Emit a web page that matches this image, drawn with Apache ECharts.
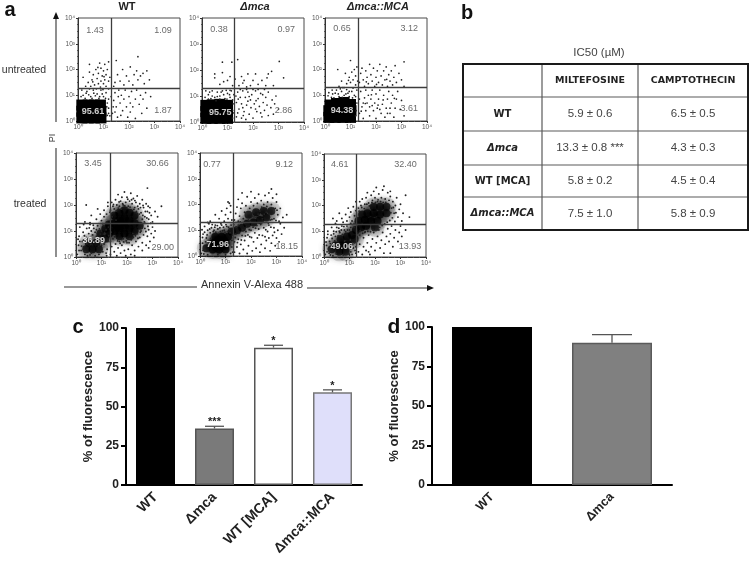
<!DOCTYPE html>
<html><head><meta charset="utf-8">
<style>html,body{margin:0;padding:0;background:#fff}#c{width:752px;height:565px;filter:blur(.4px)}</style>
<script src="https://cdn.jsdelivr.net/npm/echarts@6/dist/echarts.min.js"></script>
</head><body><div id="c"></div>
<script>
var decadeLabels=['10⁰','10¹','10²','10³','10⁴'];
var panelTitles=['WT','Δmca','Δmca::MCA'];
var rowTitles=['untreated','treated'];
var gatesP=[[1.29,1.29],[1.25,1.29],[1.29,1.3],[1.33,1.3],[1.29,1.32],[1.25,1.29]];
// quadrant readings: [upper-left, upper-right, lower-right, lower-left]
var q1=['1.43','1.09','1.87','95.61'];
var q2=['0.38','0.97','2.86','95.75'];
var q3=['0.65','3.12','3.61','94.38'];
var q4=['3.45','30.66','29.00','36.89'];
var q5=['0.77','9.12','18.15','71.96'];
var q6=['4.61','32.40','13.93','49.06'];
var coreA=[[.15,.12],[.4,.12],[.65,.12],[.9,.12],[.15,.38],[.4,.38],[.65,.38],[.9,.38],[.15,.62],[.4,.62],[.65,.62],[.88,.62]];
var coreB=[[.15,.14],[.4,.14],[.7,.14],[1,.14],[.15,.4],[.45,.4],[.75,.4],[1,.4],[.15,.64],[.4,.66],[.7,.68],[1,.64]];
var coreC=[[.15,.14],[.4,.14],[.7,.14],[1,.14],[.15,.4],[.45,.4],[.75,.4],[1.02,.4],[.2,.62],[.45,.68],[.75,.72],[1,.64]];
var coreD=[[1.5,1],[1.5,1.3],[1.5,1.6],[1.7,.8],[1.7,1.1],[1.7,1.4],[1.7,1.7],[1.9,.9],[1.9,1.2],[1.9,1.5],[1.9,1.8],[2.1,.8],[2.1,1.1],[2.1,1.4],[2.1,1.7],[2.3,1],[2.3,1.3],[2.3,1.6],[2.5,1.2],[1.3,.9],[1.3,1.25],[.4,.3],[.65,.3],[.9,.3],[.5,.55],[.8,.55],[.95,.9],[1.15,.7],[1.15,1.1]];
var coreE=[[.5,.25],[.75,.25],[1,.25],[.5,.5],[.75,.5],[1,.5],[.6,.75],[.85,.75],[1.1,.75],[1.25,.95],[1.45,1],[1.65,1.1],[1.85,1.25],[2.1,1.3],[2.35,1.4],[2.6,1.5],[2.2,1.7],[2.5,1.75],[2.8,1.75],[1.9,1.6],[.25,.3],[.6,.4],[.85,.4],[.7,.6],[.95,.6]];
var coreF=[[.6,.2],[.85,.2],[.45,.45],[.7,.45],[.95,.5],[.65,.7],[.9,.8],[1.1,.85],[1.25,1.05],[1.45,1.15],[1.65,1.2],[1.35,1.4],[1.6,1.45],[1.85,1.4],[2.1,1.4],[1.7,1.7],[1.95,1.7],[2.2,1.65],[2.45,1.7],[1.95,1.95],[2.2,1.95],[2.45,1.95],[1.5,1.65],[2,1.15],[1.2,.7],[.3,.3]];
var dotsA=[[.4,1.5],[.45,1.9],[.45,2.2],[.55,1.6],[.6,1.8],[.65,1.4],[.7,2],[.75,1.65],[.8,1.45],[.8,1.85],[.85,2.25],[.9,1.55],[.9,2.05],[.95,1.75],[1,1.45],[1,1.95],[1.05,1.6],[1.05,2.2],[1.1,1.8],[1.1,1.35],[1.15,2],[1.2,1.55],[1.2,2.3],[1.25,1.7],[.3,1.35],[.5,1.35],[.2,1.7],[.2,1],[.35,1.15],[.5,.95],[.6,1.2],[.75,1.05],[.9,1.2],[1,.95],[1.1,1.1],[1.2,1.25],[1.2,.85],[1.2,.5],[1.25,.2],[.15,1.2],[.45,1.25],[.85,.95],[1.15,.7],[1.2,.3],[1.45,1.5],[1.5,2.35],[1.55,1.8],[1.65,1.55],[1.75,2],[1.8,1.4],[1.9,1.75],[2,1.55],[2.05,2.1],[2.15,1.4],[2.2,1.8],[2.3,1.95],[2.35,1.6],[2.35,2.5],[2.45,1.75],[2.55,1.85],[2.7,1.95],[2.8,1.6],[1.4,1.35],[2.6,1.45],[1.35,.3],[1.4,.8],[1.45,1.1],[1.5,.55],[1.55,.15],[1.6,1.2],[1.65,.7],[1.7,1],[1.75,.4],[1.8,.85],[1.85,1.2],[1.9,.55],[1.95,.15],[2,.95],[2.05,.35],[2.05,.7],[2.1,1.15],[2.15,.55],[2.25,.85],[2.25,.1],[2.3,1.2],[2.4,.65],[2.45,1],[2.5,.3],[2.55,.85],[2.65,1.1],[2.7,.5],[2.85,.95],[1.3,.95],[1.45,.35],[.12,.95],[.28,.88],[.42,1.02],[.55,.88],[.68,.98],[.82,.88],[.95,1.05],[1.08,.88],[1.13,.55],[1.15,.22],[.32,1.08],[.62,1.08],[.98,1.22],[.72,1.25],[.88,1.32],[1.02,1.72],[.58,1.52],[.78,2.08],[1.38,.55],[1.58,.95],[1.68,.22]];
var dotsB=[[.8,2.3],[1.17,2.3],[1.4,2.4],[3.03,2.33],[3.2,1.7],[2.73,1.95],[2.6,1.85],[.5,1.7],[.5,1.85],[.8,1.9],[.85,1.55],[1,1.6],[1.1,1.75],[.7,1.45],[1.3,1.65],[1.55,1.75],[1.6,1.5],[1.8,1.85],[1.9,1.4],[2,1.6],[2.1,1.85],[2.2,1.45],[2.35,1.6],[2.5,1.4],[2.55,1.7],[1.75,1.35],[1.2,1.4],[1.45,1.4],[1.65,1.6],[2.8,1.4],[.25,1.05],[.4,1.2],[.5,.95],[.6,1.15],[.7,1],[.8,1.2],[.9,.9],[1,1.1],[1.1,.95],[1.15,1.2],[1.25,1.05],[.35,.9],[.15,1.2],[1.22,.7],[1.25,.35],[1.2,.15],[1.35,.2],[1.35,.75],[1.4,1.15],[1.45,.5],[1.5,.95],[1.55,.15],[1.55,.7],[1.6,1.2],[1.65,.4],[1.7,.95],[1.72,.1],[1.75,.65],[1.8,1.15],[1.85,.3],[1.9,.85],[1.92,.55],[1.95,1.05],[2,.15],[2.05,.7],[2.1,1.2],[2.15,.4],[2.2,.9],[2.25,.6],[2.3,1.1],[2.35,.2],[2.4,.75],[2.45,.45],[2.5,.95],[2.55,.65],[2.6,.25],[2.6,1.15],[2.7,.55],[2.75,.85],[2.8,.3],[2.85,.7],[2.9,1],[3,.5],[1.4,.35],[1.6,.55],[1.8,.8],[2.1,.5],[2.3,.35],[1.5,1.25],[1.75,1.25],[2,1.25],[2.2,1.25],[1.33,1],[2.45,1.25],[.12,.95],[.25,.88],[.4,1],[.55,.82],[.7,.88],[.85,1.05],[.98,.88],[1.08,1.05],[1.2,.85],[1.2,.45],[.3,1.15],[.6,.98],[.95,1.22],[.75,1.15],[1.1,1.22],[1.42,.88],[1.62,.25],[1.85,.98],[2.12,.82],[2.38,1.05]];
var dotsC=[[1,2.35],[1.15,2],[.5,2],[.65,1.55],[.8,1.85],[.85,1.45],[.95,1.7],[1,1.5],[1.05,1.9],[1.1,1.6],[1.2,1.75],[1.2,1.4],[.55,1.35],[.7,1.3],[1.25,2.1],[1.35,1.5],[1.4,1.85],[1.45,2.05],[1.5,1.6],[1.55,1.35],[1.6,1.95],[1.65,1.7],[1.7,1.45],[1.75,2.2],[1.8,1.8],[1.85,1.55],[1.9,2.05],[1.95,1.35],[2,1.7],[2.05,1.95],[2.1,1.5],[2.15,2.2],[2.2,1.75],[2.25,1.4],[2.3,1.95],[2.35,1.6],[2.4,2.1],[2.45,1.35],[2.5,1.8],[2.55,1.55],[2.6,1.95],[2.65,1.4],[2.7,1.7],[2.75,2.15],[2.8,1.5],[2.9,1.85],[3,1.6],[3.1,2.3],[3.1,1.35],[.3,1.05],[.45,1.2],[.55,.95],[.65,1.15],[.75,1],[.85,1.22],[.95,.95],[1.05,1.15],[1.15,1],[1.25,1.2],[1.25,.7],[1.22,.4],[.15,1.1],[.35,.9],[1.35,.3],[1.35,.85],[1.4,1.15],[1.45,.55],[1.5,.1],[1.55,.9],[1.6,.4],[1.6,1.2],[1.65,.7],[1.7,1],[1.75,.2],[1.75,.55],[1.8,.85],[1.85,1.2],[1.9,.4],[1.95,.7],[2,1.05],[2,.1],[2.05,.5],[2.1,.85],[2.15,1.2],[2.2,.3],[2.25,.65],[2.3,1],[2.35,.15],[2.4,.5],[2.45,.85],[2.5,1.15],[2.55,.3],[2.6,.7],[2.65,1],[2.7,.15],[2.75,.5],[2.8,.85],[2.85,1.15],[2.95,.45],[3,.8],[3.1,.2],[1.5,.7],[1.85,.6],[2.15,.45],[2.45,.3],[.12,.98],[.25,.92],[.4,1.08],[.52,1.05],[.68,.92],[.82,1.05],[.95,1.15],[1.08,.9],[1.2,.95],[1.2,.2],[.28,1.2],[.6,1.25],[.9,1.08],[.75,1.3],[1.1,1.28],[1.42,.38],[1.58,.68],[1.82,1.02],[2.08,.62],[2.28,.82],[2.55,.5],[2.72,.88],[1.62,1.52],[2.02,1.42],[2.42,1.62],[1.28,1.55],[.92,1.58]];
var dotsD=[[.05,.1],[.1,.45],[.12,.8],[.15,1.15],[.2,.25],[.25,.6],[.28,.95],[.3,1.25],[.35,.1],[.4,.75],[.42,1.1],[.5,.9],[.55,1.25],[.6,.15],[.65,.85],[.7,1.1],[.75,.05],[.8,.8],[.85,1.2],[.9,.1],[.95,.65],[1,1],[1.05,.2],[1.1,.5],[1.15,.9],[1.2,.05],[1.22,.3],[1.25,.6],[.6,1],[.3,.4],[1,.45],[1.1,1.2],[.8,1.05],[.45,.05],[.15,.6],[.4,2],[.6,1.6],[.8,1.45],[.85,1.85],[.95,1.65],[1,1.4],[1.1,1.55],[1.1,1.8],[1.2,1.35],[1.2,1.65],[1.25,1.95],[1.25,2.1],[.35,1.35],[.55,1.32],[1.35,1.8],[1.4,2.1],[1.45,1.95],[1.5,1.85],[1.55,2.2],[1.6,2],[1.65,2.4],[1.7,1.95],[1.75,2.15],[1.8,2.3],[1.85,2],[1.9,2.5],[1.95,2.1],[2,2.3],[2.05,1.95],[2.1,2.15],[2.15,2.45],[2.2,2.05],[2.25,2.25],[2.3,1.9],[2.35,2.1],[2.4,2.35],[2.45,1.85],[2.5,2.05],[2.55,1.7],[2.6,2.2],[2.65,1.9],[2.7,1.55],[2.75,2.05],[2.8,1.75],[2.85,1.45],[2.9,1.9],[2.95,1.6],[3,1.35],[3.1,1.75],[3.2,1.55],[2.8,2.65],[3.35,1.95],[2.6,1.45],[2.7,1.3],[1.35,.1],[1.4,.4],[1.45,.7],[1.5,.2],[1.55,.5],[1.6,.05],[1.65,.35],[1.7,.6],[1.75,.15],[1.8,.45],[1.85,.7],[1.9,.25],[1.95,.05],[2,.55],[2.05,.3],[2.1,.7],[2.15,.1],[2.2,.45],[2.25,.75],[2.3,.25],[2.35,.6],[2.4,.9],[2.45,.4],[2.5,.75],[2.55,1],[2.6,.55],[2.65,.85],[2.7,1.1],[2.75,.45],[2.8,.8],[2.85,1.05],[2.9,.6],[2.95,.9],[3,1.15],[3.05,.75],[2.3,.05],[2.6,.25],[2.85,.35],[1.35,.6],[3.1,1],[1.33,1.72],[1.38,.95],[1.42,1.55],[1.47,2.02],[1.52,.78],[1.57,1.42],[1.58,1.77],[1.63,.62],[1.66,1.88],[1.69,2.12],[1.73,.53],[1.77,1.84],[1.79,.67],[1.83,2.05],[1.87,.58],[1.91,1.97],[1.97,.62],[2.02,1.87],[2.03,2.22],[2.08,.55],[2.12,1.92],[2.17,.66],[2.18,2.2],[2.23,.9],[2.27,1.83],[2.31,2.17],[2.33,.82],[2.37,1.75],[2.42,1.95],[2.43,.72],[2.48,1.65],[2.52,.95],[2.53,1.9],[2.58,1.12],[2.62,1.6],[2.63,1.98],[2.68,1.35],[2.72,1.75],[2.74,.98],[2.78,1.5],[2.82,1.18],[2.83,1.95],[2.88,1.7],[2.93,1.3],[.42,.52],[.58,.48],[.72,.62],[.33,.82],[.48,.7],[.88,.42],[1.02,.72],[1.08,.88],[.95,.88],[.22,.42],[.52,1.12],[.75,.95],[.92,1.08],[1.18,1.05],[1.05,1.28],[.68,1.22],[.38,.2],[.12,.25],[.08,.68],[1.28,.82],[1.27,1.15],[1.18,.15],[.55,.08],[.95,.18],[.3,.65]];
var dotsE=[[.05,.1],[.1,.5],[.12,.85],[.18,1.15],[.2,.2],[.25,.7],[.3,1],[.35,1.25],[.15,.35],[.4,.9],[.45,1.1],[.55,1],[.6,1.2],[.7,1.05],[.8,.95],[.85,1.2],[.95,1],[1.05,1.15],[1.15,1.05],[1.2,.1],[1.25,.35],[1.25,.6],[.3,.05],[.7,.05],[1,.05],[.6,1.6],[.75,1.45],[.85,1.75],[.95,1.35],[1,1.6],[1.05,1.85],[1.1,1.45],[1.15,2.05],[1.2,1.7],[1.25,1.4],[1.2,1.95],[.4,1.35],[.3,1.3],[1.1,2.1],[1.35,1.4],[1.4,1.65],[1.45,1.9],[1.5,2.2],[1.5,1.35],[1.55,1.55],[1.6,1.85],[1.65,2.05],[1.65,2.45],[1.7,1.45],[1.75,1.7],[1.8,1.95],[1.85,2.3],[1.9,1.4],[1.95,1.85],[2,2.1],[2,2.5],[2.05,1.55],[2.1,1.95],[2.15,2.25],[2.2,1.5],[2.25,2.05],[2.3,2.4],[2.35,1.75],[2.4,2.15],[2.45,1.45],[2.5,2],[2.55,2.35],[2.6,1.7],[2.65,2.1],[2.7,2.45],[2.75,1.4],[2.8,2],[2.85,2.25],[2.9,1.45],[2.95,1.85],[3,2.1],[3.05,1.6],[3.1,1.35],[3.15,1.85],[3.25,1.5],[3.4,1.6],[2.8,2.6],[3,2.4],[1.35,.15],[1.35,.55],[1.4,.85],[1.45,.35],[1.5,.65],[1.5,1.2],[1.55,.1],[1.6,.45],[1.65,.8],[1.7,.25],[1.75,.6],[1.8,.95],[1.85,.1],[1.9,.4],[1.95,.75],[2,1],[2.05,.2],[2.1,.55],[2.15,.9],[2.2,.3],[2.25,.7],[2.3,1.05],[2.35,.15],[2.4,.45],[2.45,.8],[2.5,1.1],[2.55,.3],[2.6,.6],[2.65,.95],[2.7,1.2],[2.75,.2],[2.8,.5],[2.85,.8],[2.9,1.1],[2.95,.4],[3,.7],[3.05,1],[3.1,.55],[3.15,1.25],[3.2,.85],[3.3,1.1],[2.7,.7],[2.55,.75],[1.32,1.22],[1.38,.72],[1.42,1.12],[1.47,.52],[1.52,.88],[1.58,1.32],[1.62,.62],[1.68,1.02],[1.72,1.28],[1.78,.78],[1.82,1.12],[1.88,.82],[1.93,1.02],[1.97,1.32],[2.02,.72],[2.08,1.12],[2.12,1.52],[2.18,1.08],[2.23,1.18],[2.28,1.62],[2.32,.82],[2.38,1.22],[2.42,1.9],[2.48,1.32],[2.52,1.62],[2.58,1.02],[2.62,1.92],[2.68,1.28],[2.72,1.62],[2.78,1.12],[2.82,1.42],[2.88,1.85],[2.92,.92],[2.98,1.38],[3.02,1.78],[.22,.55],[.28,.82],[.32,.18],[.38,1.05],[.42,.68],[.48,1.22],[.52,.95],[.58,1.12],[.62,.92],[.68,1.18],[.72,.88],[.78,1.1],[.82,1.25],[.88,.98],[.92,1.12],[.98,.92],[1.02,1.22],[1.08,.95],[1.12,1.12],[1.18,.9],[1.22,1.2],[.12,.22],[.1,.72],[.08,1.02],[.18,.92],[1.28,.15],[1.28,.82],[.15,.08]];
var dotsF=[[.05,.1],[.1,.45],[.12,.75],[.15,1],[.2,.15],[.22,.6],[.28,.85],[.3,1.15],[.38,1],[.45,.8],[.5,1.15],[.6,1],[.7,1.2],[.8,1.05],[.9,1.2],[1,1.05],[1.1,.1],[1.15,.35],[1.2,.55],[1.25,.15],[1.25,.4],[.35,.05],[1,.08],[.35,1.5],[.5,1.4],[.6,1.7],[.7,1.5],[.75,1.35],[.85,1.65],[.9,1.4],[.95,1.9],[1,1.55],[1.05,1.75],[1.1,1.4],[1.15,1.95],[1.2,1.6],[1.25,1.8],[1.25,2.15],[.45,1.3],[1.05,1.3],[1.35,1.9],[1.4,2.15],[1.45,2],[1.5,2.25],[1.6,2.05],[1.65,2.3],[1.7,2.5],[1.75,2.1],[1.85,2.4],[1.9,2.2],[1.95,2.55],[2,2.3],[2.05,2.7],[2.1,2.15],[2.15,2.45],[2.25,2.3],[2.3,2.6],[2.4,2.25],[2.5,2.5],[2.55,2.2],[2.6,2.35],[2.65,1.9],[2.7,2.15],[2.75,1.7],[2.8,2],[2.85,2.3],[2.9,1.55],[2.95,1.85],[3,2.05],[3.05,1.4],[3.1,1.7],[3.2,2.4],[3.35,1.55],[2.6,2.55],[2.35,2.75],[1.35,.2],[1.4,.5],[1.4,.85],[1.5,.1],[1.55,.4],[1.55,.75],[1.6,.95],[1.65,.25],[1.7,.55],[1.75,.85],[1.8,.1],[1.85,.4],[1.9,.7],[1.95,.95],[2,.25],[2.05,.55],[2.1,.8],[2.15,1.05],[2.2,.35],[2.25,.65],[2.3,.95],[2.35,.15],[2.4,.5],[2.45,.8],[2.5,1.1],[2.55,.6],[2.6,.9],[2.65,1.2],[2.7,.4],[2.75,.75],[2.8,1.05],[2.9,.6],[2.95,.95],[3.05,.8],[3,1.2],[3.2,1.05],[1.75,.2],[2.6,.15],[1.32,.92],[1.38,1.78],[1.42,1.02],[1.48,1.92],[1.52,.92],[1.58,1.88],[1.62,.98],[1.68,2.05],[1.72,1],[1.78,1.98],[1.82,.98],[1.88,2.12],[1.92,1.05],[2.02,2.12],[2.08,1.08],[2.12,2.22],[2.18,1.15],[2.22,2.15],[2.28,1.22],[2.32,2.12],[2.38,1.28],[2.42,2.12],[2.48,1.35],[2.52,2.02],[2.58,1.42],[2.62,1.72],[2.68,1.52],[2.72,1.92],[2.78,1.38],[2.82,1.72],[.18,.32],[.25,.52],[.32,.72],[.38,.9],[.42,.62],[.48,.98],[.55,.82],[.58,1.12],[.62,.95],[.68,1.05],[.72,.88],[.78,1.18],[.85,.98],[.92,1.05],[.98,.12],[1.05,.2],[1.05,1.15],[1.12,.5],[1.18,1.15],[1.22,.25],[1.28,.65],[1.18,1.28],[.12,.2],[.08,.58],[.15,.88],[.25,.08],[.48,.12],[.75,.08]];
var tableColumns=['MILTEFOSINE','CAMPTOTHECIN'];
var tableRows=['WT','Δmca','WT [MCA]','Δmca::MCA'];
var tableMiltefosine=['5.9 ± 0.6','13.3 ± 0.8 ***','5.8 ± 0.2','7.5 ± 1.0'];
var tableCamptothecin=['6.5 ± 0.5','4.3 ± 0.3','4.5 ± 0.4','5.8 ± 0.9'];
var catsC=['WT','Δmca','WT [MCA]','Δmca::MCA'];
var valsC=[100,36,87.5,59];
var errC=[null,37.4,89,60.6];
var starsC=['','***','*','*'];
var catsD=['WT','Δmca'];
var valsD=[100,90];
var errD=[null,95.2];
var starsD=['',''];

// layout
var FONT='"Liberation Sans",Arial,sans-serif';
var boxes=[[78,18,102,103],[202,18,102,104],[325,18,102,103],[76,153,102,104],[200,153,102,103],[324,154,102,103]];
var quadXY=[[[.67,3.53],[3.33,3.53],[3.33,.39],[.59,.35]],[[.67,3.55],[3.3,3.55],[3.2,.45],[.72,.35]],[[.67,3.6],[3.3,3.6],[3.3,.5],[.67,.42]],[[.67,3.6],[3.2,3.6],[3.4,.35],[.7,.65]],[[.47,3.55],[3.3,3.55],[3.4,.35],[.7,.45]],[[.62,3.6],[3.2,3.6],[3.37,.42],[.7,.42]]];
var quads=[q1,q2,q3,q4,q5,q6], cores=[coreA,coreB,coreC,coreD,coreE,coreF], dots=[dotsA,dotsB,dotsC,dotsD,dotsE,dotsF];

var grids=[],xAxes=[],yAxes=[],series=[],g=[];
boxes.forEach(function(b,i){
  grids.push({left:b[0],top:b[1],width:b[2],height:b[3],show:true,borderColor:'#4a4a4a',borderWidth:1,backgroundColor:'#fff'});
  var ax={min:0,max:4,interval:1,type:'value',splitLine:{show:false},axisLine:{show:true,onZero:false,lineStyle:{color:'#333',width:1}},
    axisTick:{show:true,length:2,lineStyle:{color:'#333'}},minorTick:{show:true,splitNumber:4,length:1,lineStyle:{color:'#555'}},
    axisLabel:{margin:3,fontSize:6.5,color:'#555',fontFamily:FONT,formatter:function(v){return decadeLabels[v];}}};
  xAxes.push(Object.assign({gridIndex:i},ax));
  yAxes.push(Object.assign({gridIndex:i},ax));
  var treated=i>=3;
  if(treated)series.push({type:'scatter',xAxisIndex:i,yAxisIndex:i,data:cores[i],symbolSize:19,
    itemStyle:{color:'#000',opacity:.13,shadowBlur:6,shadowColor:'rgba(0,0,0,.5)'},silent:true,z:1});
  series.push({type:'scatter',xAxisIndex:i,yAxisIndex:i,data:cores[i],symbol:treated?'circle':'rect',symbolSize:treated?8:11,
    itemStyle:treated?{color:'#000',opacity:.72,shadowBlur:8,shadowColor:'rgba(0,0,0,.85)'}:{color:'#000',opacity:1},silent:true,z:2});
  series.push({type:'scatter',xAxisIndex:i,yAxisIndex:i,data:dots[i],symbolSize:treated?1.9:1.7,itemStyle:{color:'#222',opacity:1},silent:true,z:3,
    markLine:{silent:true,symbol:'none',label:{show:false},lineStyle:{color:'#3d3d3d',width:1.3,type:'solid'},data:[{xAxis:gatesP[i][0]},{yAxis:gatesP[i][1]}]}});
  series.push({type:'scatter',xAxisIndex:i,yAxisIndex:i,symbolSize:1,itemStyle:{color:'rgba(0,0,0,0)'},silent:true,z:5,
    data:quads[i].map(function(t,k){return {name:t,value:quadXY[i][k],label:{show:true,position:'inside',formatter:'{b}',fontFamily:FONT,fontSize:9,color:k==3?'#fff':'#444',fontWeight:k==3?'bold':'normal'}};})});
});

function barChart(idx,left,top,width,height,cats,vals,errs,stars,barW,colors,borders,capW,labelSize,nameGap){
  grids.push({left:left,top:top,width:width,height:height,show:false});
  xAxes.push({gridIndex:idx,type:'category',data:cats,axisLine:{onZero:false,lineStyle:{color:'#000',width:2}},
    axisTick:{alignWithLabel:true,length:5,lineStyle:{color:'#000',width:2}},
    axisLabel:{rotate:45,margin:10,fontSize:labelSize,fontWeight:'bold',color:'#222',fontFamily:FONT,interval:0}});
  yAxes.push({gridIndex:idx,type:'value',min:0,max:100,interval:25,splitLine:{show:false},axisLine:{show:true,lineStyle:{color:'#000',width:2}},
    axisTick:{show:true,length:5,lineStyle:{color:'#000',width:2}},
    axisLabel:{margin:7,fontSize:12,fontWeight:'bold',color:'#222',fontFamily:FONT},
    name:'% of fluorescence',nameLocation:'middle',nameGap:nameGap,nameTextStyle:{fontSize:13,fontWeight:'bold',color:'#222',fontFamily:FONT}});
  series.push({type:'bar',xAxisIndex:idx,yAxisIndex:idx,barWidth:barW,silent:true,z:2,
    data:vals.map(function(v,i){return {value:v,itemStyle:{color:colors[i],borderColor:borders[i],borderWidth:1.5}};})});
  var d=[];errs.forEach(function(e,i){if(e!==null)d.push([i,vals[i],e]);});
  series.push({type:'custom',xAxisIndex:idx,yAxisIndex:idx,silent:true,z:3,data:d,
    renderItem:function(p,api){
      var i=api.value(0),a=api.coord([i,api.value(1)]),b=api.coord([i,api.value(2)]);
      var st={stroke:'#555',lineWidth:1.3,fill:null};
      var kids=[{type:'line',shape:{x1:a[0],y1:a[1],x2:b[0],y2:b[1]},style:st},
                {type:'line',shape:{x1:b[0]-capW/2,y1:b[1],x2:b[0]+capW/2,y2:b[1]},style:st}];
      if(stars[i])kids.push({type:'text',style:{text:stars[i],x:b[0],y:b[1]-4,align:'center',verticalAlign:'middle',fontSize:11,fontWeight:'bold',fontFamily:FONT,fill:'#222'}});
      return {type:'group',children:kids};
    }});
}
barChart(6,126,328,236,157,catsC,valsC,errC,starsC,39,['#000','#7a7a7a','#fff','#dfdffa'],['#000','#555','#555','#777'],19,14,28);
barChart(7,432,327,240,158,catsD,valsD,errD,starsD,80,['#000','#808080'],['#000','#5a5a5a'],40,12.5,28);

function T(x,y,t,o){return Object.assign({type:'text',x:x,y:y,silent:true,style:Object.assign({text:t,fontFamily:FONT,fontSize:10,fill:'#333',align:'center',verticalAlign:'middle'},o||{})});}
g.push(T(10,10,'a',{fontSize:20,fontWeight:'bold',fill:'#111'}));
g.push(T(467,13,'b',{fontSize:20,fontWeight:'bold',fill:'#111'}));
g.push(T(78,327,'c',{fontSize:20,fontWeight:'bold',fill:'#111'}));
g.push(T(394,327,'d',{fontSize:21,fontWeight:'bold',fill:'#111'}));
var titleX=[127,255,378];
panelTitles.forEach(function(t,i){g.push(T(titleX[i],7,t,{fontSize:11,fontWeight:'bold',fontStyle:i?'italic':'normal',fill:'#222'}));});
g.push(T(24,70,rowTitles[0],{fontSize:10.5}));
g.push(T(30,204,rowTitles[1],{fontSize:10.5}));
g.push(Object.assign(T(0,0,'PI',{fontSize:9}),{x:53,y:138,rotation:Math.PI/2}));
g.push(T(252,285,'Annexin V-Alexa 488',{fontSize:11}));
function L(x1,y1,x2,y2,c,w){return {type:'line',silent:true,shape:{x1:x1,y1:y1,x2:x2,y2:y2},style:{stroke:c,lineWidth:w}};}
g.push(L(56,122,56,18,'#444',1.2));
g.push({type:'polygon',silent:true,shape:{points:[[56,12],[53,19],[59,19]]},style:{fill:'#111'}});
g.push(L(56,148,56,257,'#444',1.2));
g.push(L(64,287,197,287,'#333',1.2));
g.push(L(307,288,428,288,'#333',1.2));
g.push({type:'polygon',silent:true,shape:{points:[[434,288],[427,285],[427,291]]},style:{fill:'#111'}});

// table b
var cx=[463,542,638,748], ry=[64,97,131,165,197,230];
var CH='"DejaVu Sans",sans-serif';
g.push(T(599,53,'IC50 (µM)',{fontSize:11.5,fill:'#444'}));
for(var i=1;i<5;i++)g.push(L(cx[0],ry[i],cx[3],ry[i],'#5a5a5a',1.2));
for(var j=1;j<3;j++)g.push(L(cx[j],ry[0],cx[j],ry[5],'#5a5a5a',1.2));
g.push({type:'rect',silent:true,shape:{x:cx[0],y:ry[0],width:cx[3]-cx[0],height:ry[5]-ry[0]},style:{fill:null,stroke:'#1a1a1a',lineWidth:2}});
tableColumns.forEach(function(t,k){g.push(T((cx[k+1]+cx[k+2])/2,(ry[0]+ry[1])/2,t,{fontFamily:CH,fontSize:9.5,fontWeight:'bold',fill:'#222'}));});
tableRows.forEach(function(t,k){
  var y=(ry[k+1]+ry[k+2])/2;
  g.push(T((cx[0]+cx[1])/2,y,t,{fontFamily:CH,fontSize:10,fontWeight:'bold',fontStyle:k%2?'italic':'normal',fill:'#222'}));
  g.push(T((cx[1]+cx[2])/2,y,tableMiltefosine[k],{fontSize:11.5,fill:'#444'}));
  g.push(T((cx[2]+cx[3])/2,y,tableCamptothecin[k],{fontSize:11.5,fill:'#444'}));
});

var chart=echarts.init(document.getElementById('c'),null,{renderer:'canvas'});
chart.setOption({animation:false,backgroundColor:'#fff',tooltip:{show:false},grid:grids,xAxis:xAxes,yAxis:yAxes,series:series,graphic:{elements:g}});
</script></body></html>
